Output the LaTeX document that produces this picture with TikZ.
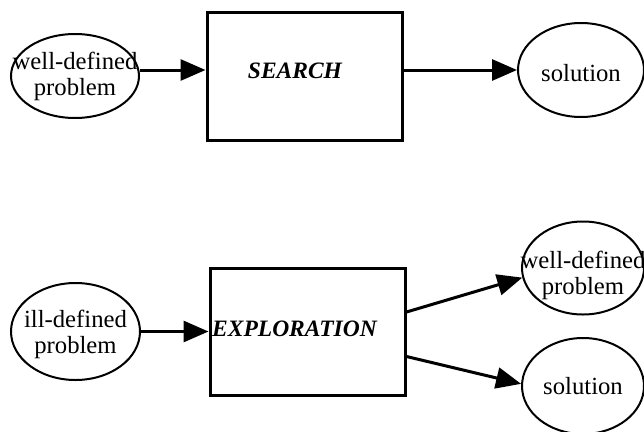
\documentclass[tikz,border=0pt]{standalone}
\usepackage{fontspec}
\setmainfont{Liberation Serif}
\usetikzlibrary{arrows.meta,shapes.geometric}

\tikzset{
  oval/.style={draw, ellipse, line width=2pt, inner sep=0pt},
  ovaltext/.style={inner sep=0pt, align=center, font=\fontsize{24.7}{26}\selectfont},
  stage/.style={draw, rectangle, line width=3pt, inner sep=0pt},
  stagelabel/.style={inner sep=0pt, font=\fontsize{23.5}{25}\selectfont\bfseries\itshape},
  flow/.style={line width=3pt, -{Triangle[length=25pt,width=21pt]}}
}

\begin{document}
\begin{tikzpicture}[x=1pt,y=-1pt]
  \useasboundingbox (0,0) rectangle (644,431);

  % first process: search
  \node[oval, minimum width=128pt, minimum height=84pt,
        label={[ovaltext]center:well-defined\\problem}] (wdp1) at (75,76) {};
  \node[stage, minimum width=195pt, minimum height=128pt] (search) at (304.5,76) {};
  \node[stagelabel] (searchtxt) at (295,71) {SEARCH};
  \node[oval, minimum width=126pt, minimum height=94pt,
        label={[ovaltext, yshift=-3pt]center:solution}] (sol1) at (581,70) {};

  \draw[flow] ([yshift=6pt]wdp1.east) -- ([yshift=6pt]wdp1.east -| search.west);
  \draw[flow] (sol1.west -| search.east) -- (sol1.west);

  % second process: exploration
  \node[oval, minimum width=129pt, minimum height=97pt,
        label={[ovaltext, yshift=-3pt]center:ill-defined\\problem}] (idp) at (75.5,331.5) {};
  \node[stage, minimum width=195pt, minimum height=127pt] (explore) at (307.5,331.5) {};
  \node[stagelabel, anchor=west] (exploretxt) at (212,329) {EXPLORATION};
  \node[oval, minimum width=122pt, minimum height=93pt,
        label={[ovaltext, yshift=-7pt]center:well-defined\\problem}] (wdp2) at (583,268) {};
  \node[oval, minimum width=122pt, minimum height=96pt,
        label={[ovaltext]center:solution}] (sol2) at (583,386) {};

  \draw[flow] (idp.east) -- (idp.east -| explore.west);
  \draw[flow] ([yshift=19.5pt]explore.east) -- (wdp2.189);
  \draw[flow] ([yshift=-25pt]explore.east) -- (sol2.178);
\end{tikzpicture}
\end{document}
